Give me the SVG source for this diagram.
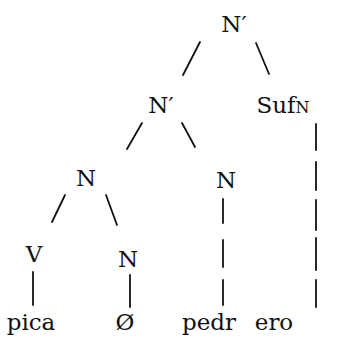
<svg xmlns="http://www.w3.org/2000/svg" width="346" height="342" viewBox="0 0 346 342">
<style>
text{font-family:"DejaVu Serif","Liberation Serif",serif;font-size:23px;fill:#111;text-anchor:middle}
.sc{font-size:16px}
line{stroke:#111;stroke-width:1.8;stroke-linecap:round}
</style>
<rect width="346" height="342" fill="#fff"/>
<g id="connectors">
<line x1="200" y1="42" x2="183" y2="75"/>
<line x1="256" y1="43" x2="269" y2="74"/>
<line x1="142" y1="123" x2="127" y2="149"/>
<line x1="182" y1="123" x2="195" y2="147"/>
<line x1="65" y1="195" x2="52" y2="222"/>
<line x1="106" y1="195" x2="117" y2="225"/>
<line x1="33" y1="272" x2="33" y2="305"/>
<line x1="130" y1="275" x2="130" y2="307"/>
<line x1="223" y1="199" x2="223" y2="223"/>
<line x1="223" y1="240" x2="223" y2="267"/>
<line x1="223" y1="280" x2="223" y2="305"/>
<line x1="316" y1="124" x2="316" y2="150"/>
<line x1="316" y1="162" x2="316" y2="190"/>
<line x1="316" y1="200" x2="316" y2="230"/>
<line x1="316" y1="238" x2="316" y2="270"/>
<line x1="316" y1="280" x2="316" y2="307"/>
</g>
<g id="n-top"><text x="234" y="32">N′</text></g>
<g id="n-mid"><text x="161" y="113">N′</text></g>
<g id="sufn"><text x="283" y="113">Suf<tspan class="sc">N</tspan></text></g>
<g id="n-left"><text x="86" y="186">N</text></g>
<g id="n-pedr"><text x="226" y="188">N</text></g>
<g id="v"><text x="34" y="262">V</text></g>
<g id="n-null"><text x="128" y="267">N</text></g>
<g id="pica"><text x="31" y="330">pica</text></g>
<g id="null"><text x="125" y="330">Ø</text></g>
<g id="pedr"><text x="209" y="330">pedr</text></g>
<g id="ero"><text x="274" y="330">ero</text></g>
</svg>
